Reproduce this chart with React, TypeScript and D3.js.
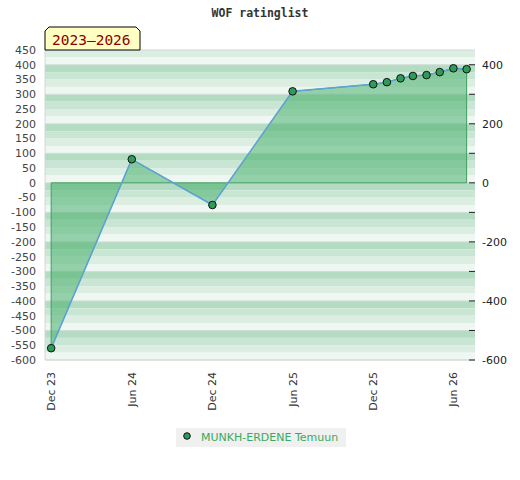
import React from 'react';
import * as d3 from 'd3';

// rating history, one point per list
const listDates = [
  '2023-12-01', '2024-06-01', '2024-12-01', '2025-06-01', '2025-12-01', '2026-01-01',
  '2026-02-01', '2026-03-01', '2026-04-01', '2026-05-01', '2026-06-01', '2026-07-01',
];
const ratings = [-560, 80, -75, 310, 334, 341, 354, 362, 365, 375, 388, 385];
const leftTicks = [450, 400, 350, 300, 250, 200, 150, 100, 50, 0, -50, -100, -150, -200, -250, -300, -350, -400, -450, -500, -550, -600];
const rightTicks = [400, 300, 200, 100, 0, -100, -200, -300, -400, -500, -600];
const xTicks = ['2023-12-01', '2024-06-01', '2024-12-01', '2025-06-01', '2025-12-01', '2026-06-01'];
const playerName = 'MUNKH-ERDENE Temuun';
const periodLabel = '2023–2026';

const W = 520;
const H = 480;
const margin = { top: 50, right: 45, bottom: 120, left: 45 };
const font = 'DejaVu Sans, sans-serif';
const stripeColors = ['#b3dcc2', '#c9e6d4', '#dcede2', '#eef7f1'];

const App = () => {
  const parse = d3.timeParse('%Y-%m-%d');
  const data = listDates.map((d, i) => ({ date: parse(d) as Date, rating: ratings[i] }));

  const x = d3.scaleTime()
    .domain([parse('2023-11-17') as Date, parse('2026-07-20') as Date])
    .range([margin.left, W - margin.right]);

  const y = d3.scaleLinear()
    .domain([-600, 450])
    .range([H - margin.bottom, margin.top]);

  const fmt = d3.timeFormat('%b %y');

  // background stripes, 25 units each
  const stripes: { y0: number; y1: number; c: string }[] = [];
  for (let v = 450; v > -600; v -= 25) {
    const idx = ((((500 - v) / 25) % 4) + 4) % 4;
    stripes.push({ y0: y(v), y1: y(v - 25), c: stripeColors[idx] });
  }

  const area = d3.area<{ date: Date; rating: number }>()
    .x(d => x(d.date))
    .y0(y(0))
    .y1(d => y(d.rating));

  const line = d3.line<{ date: Date; rating: number }>()
    .x(d => x(d.date))
    .y(d => y(d.rating));

  const x0 = margin.left;
  const x1 = W - margin.right;

  return (
    <div style={{ position: 'absolute', left: 0, top: 0 }}>
      <svg width={W} height={H} style={{ display: 'block', background: '#fff' }}>
        <text x={W / 2} y={17} textAnchor="middle" fontFamily="DejaVu Sans Mono, monospace"
          fontWeight="bold" fontSize={11.5} fill="#333">WOF ratinglist</text>

        {stripes.map((s, i) => (
          <rect key={i} x={x0} y={s.y0} width={x1 - x0} height={s.y1 - s.y0} fill={s.c} />
        ))}
        {rightTicks.filter(v => v % 100 === 0).map(v => (
          <line key={v} x1={x0} x2={x1} y1={y(v)} y2={y(v)} stroke="#d2ddd5" strokeWidth={1} />
        ))}
        <line x1={x0} x2={x1} y1={y(450)} y2={y(450)} stroke="#d6d6d6" />
        <line x1={x0} x2={x1} y1={y(-600)} y2={y(-600)} stroke="#d6d6d6" />
        <line x1={x0} x2={x0} y1={y(450)} y2={y(-600)} stroke="#d6d6d6" />

        {/* filled area to zero */}
        <path d={area(data) || ''} fill="rgb(75,177,110)" fillOpacity={0.55}
          stroke="#3f9e5f" strokeWidth={1} />
        <path d={line(data) || ''} fill="none" stroke="#5ea3d8" strokeWidth={1.5} />

        {data.map((d, i) => (
          <circle key={i} cx={x(d.date)} cy={y(d.rating)} r={3.8}
            fill="#2e9b58" stroke="#111" strokeWidth={1} />
        ))}

        {/* left axis */}
        {leftTicks.map(v => (
          <text key={v} x={36} y={y(v)} dy="0.35em" textAnchor="end" fontFamily={font}
            fontSize={11} fill="#444">{v}</text>
        ))}

        {/* right axis */}
        {rightTicks.map(v => (
          <g key={v}>
            <line x1={x1 - 6} x2={x1} y1={y(v)} y2={y(v)} stroke="#222" strokeWidth={1} />
            {v % 200 === 0 && (
              <text x={x1 + 7} y={y(v)} dy="0.35em" fontFamily={font} fontSize={11}
                fill="#222">{v}</text>
            )}
          </g>
        ))}

        {/* x axis labels */}
        {xTicks.map(t => {
          const px = x(parse(t) as Date);
          return (
            <text key={t} transform={`translate(${px + 4},${372}) rotate(-90)`} textAnchor="end"
              fontFamily={font} fontSize={11} fill="#333">{fmt(parse(t) as Date)}</text>
          );
        })}

        {/* period badge */}
        <path d={`M45,50 L45,31 L49,27 L136,27 L140,31 L140,50 Z`} fill="#ffffc4" stroke="#000" strokeWidth={1} />
        <text x={52} y={45} fontFamily="DejaVu Sans Mono, monospace" fontSize={14.5} fill="#8b0000">{periodLabel}</text>

        {/* legend */}
        <rect x={176} y={428} width={170} height={19} fill="#f0f0f0" />
        <circle cx={187} cy={436} r={3.3} fill="#2e9b58" stroke="#111" strokeWidth={1} />
        <text x={201} y={440.5} fontFamily={font} fontSize={11} fill="#3aaa5e">{playerName}</text>
      </svg>
    </div>
  );
};

export default App;
